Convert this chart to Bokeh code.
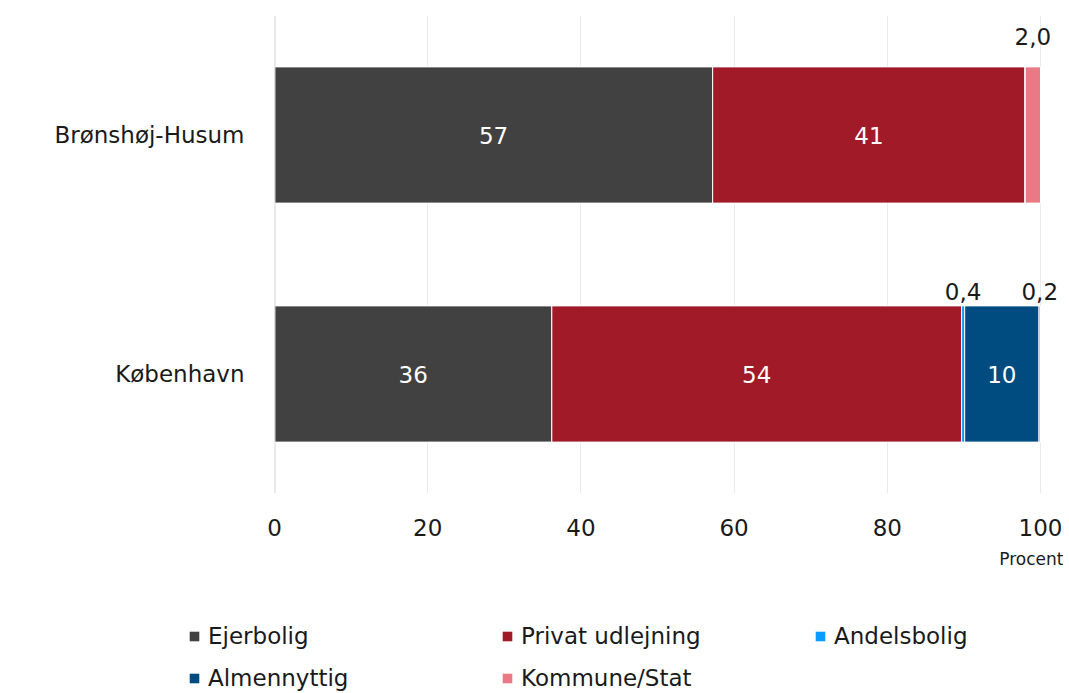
from bokeh.plotting import figure
from bokeh.layouts import column, row
from bokeh.models import (ColumnDataSource, FactorRange, Range1d, Legend, LegendItem,
                          LabelSet, Span, FixedTicker, Title)
from bokeh.embed import file_html
from bokeh.resources import INLINE
from bokeh.core.properties import value

# ---- data ----
areas = ["Brønshøj-Husum", "København"]
series = ["Ejerbolig", "Privat udlejning", "Andelsbolig", "Almennyttig", "Kommune/Stat"]
ejerbolig = [57.2, 36.2]
privat_udlejning = [40.8, 53.5]
andelsbolig = [0.0, 0.4]
almennyttig = [0.0, 9.7]
kommune_stat = [2.0, 0.2]
x_ticks = [0, 20, 40, 60, 80, 100]
x_unit = "Procent"

# ---- style ----
colors = ["#414141", "#A11A28", "#0A9BFF", "#004B7F", "#E97A85"]
FONT = "DejaVu Sans"
FS = "23px"
TXT = "#1a1a1a"

keys = ["ejer", "privat", "andel", "almen", "kommune"]
src = ColumnDataSource(dict(area=areas, ejer=ejerbolig, privat=privat_udlejning,
                            andel=andelsbolig, almen=almennyttig, kommune=kommune_stat))

p = figure(width=1063, height=600,
           y_range=FactorRange(factors=list(reversed(areas))),
           x_range=Range1d(0, 103),
           output_backend="svg", toolbar_location=None,
           min_border_left=274, min_border_right=0, min_border_top=15, min_border_bottom=107)

renderers = p.hbar_stack(keys, y="area", height=0.57, color=colors, line_color="white",
                         line_width=1, source=src)

# grid / axes
p.xgrid.ticker = FixedTicker(ticks=x_ticks)
p.xgrid.grid_line_color = "#EBEBEB"
p.xgrid.grid_line_width = 1
p.ygrid.grid_line_color = None
p.outline_line_color = None
p.add_layout(Span(location=0, dimension="height", line_color="#D6D6D6", line_width=2))

p.xaxis.ticker = FixedTicker(ticks=x_ticks)
p.xaxis.axis_line_color = None
p.xaxis.major_tick_line_color = None
p.xaxis.minor_tick_line_color = None
p.xaxis.major_label_text_font = FONT
p.xaxis.major_label_text_font_size = FS
p.xaxis.major_label_text_color = TXT
p.xaxis.major_label_standoff = 19

p.yaxis.axis_line_color = None
p.yaxis.major_tick_line_color = None
p.yaxis.minor_tick_line_color = None
p.yaxis.major_label_text_font = FONT
p.yaxis.major_label_text_font_size = FS
p.yaxis.major_label_text_color = TXT
p.yaxis.major_label_standoff = 24

p.add_layout(Title(text=x_unit, align="right", text_font=FONT, text_font_size="17px",
                   text_font_style="normal", text_color=TXT, standoff=17, offset=0), "below")

# value labels
values = [ejerbolig, privat_udlejning, andelsbolig, almennyttig, kommune_stat]
outside_offset = [99, 83]
inside = dict(x=[], y=[], t=[])
outside = dict(x=[], y=[], t=[], off=[])
for i, area in enumerate(areas):
    start = 0.0
    for vals in values:
        v = vals[i]
        if v > 0:
            mid = start + v / 2
            if v >= 5:
                inside["x"].append(mid); inside["y"].append(area)
                inside["t"].append(f"{v:.0f}")
            else:
                outside["x"].append(mid); outside["y"].append(area)
                outside["t"].append(f"{v:.1f}".replace(".", ","))
                outside["off"].append(outside_offset[i])
        start += v

p.add_layout(LabelSet(x="x", y="y", text="t", source=ColumnDataSource(inside),
                      text_align="center", text_baseline="middle", text_font=value(FONT),
                      text_font_size=value(FS), text_color="white"))
p.add_layout(LabelSet(x="x", y="y", text="t", y_offset="off", source=ColumnDataSource(outside),
                      text_align="center", text_baseline="middle", text_font=value(FONT),
                      text_font_size=value(FS), text_color=TXT))

# legend figure
lg = figure(width=1063, height=93, x_axis_type=None, y_axis_type=None,
            x_range=Range1d(0, 1), y_range=Range1d(0, 1),
            output_backend="svg", toolbar_location=None,
            min_border_left=0, min_border_right=0, min_border_top=0, min_border_bottom=0)
lg.outline_line_color = None
lg.grid.visible = False
dummy = [lg.hbar(y=[5], left=[3], right=[4], height=0.5, fill_color=c, line_color=None)
         for c in colors]
items = [LegendItem(label=s, renderers=[r]) for s, r in zip(series, dummy)]
legend = Legend(items=items, location=(188, 2), orientation="horizontal", ncols=3,
                glyph_width=12, glyph_height=12, label_standoff=8, label_width=277,
                label_height=24, spacing=16, padding=0, margin=0,
                border_line_color=None, background_fill_alpha=0,
                label_text_font=FONT, label_text_font_size=FS, label_text_color=TXT)
lg.add_layout(legend, "center")

open("out.html", "w").write(file_html(column(p, row(lg), spacing=0), INLINE))
